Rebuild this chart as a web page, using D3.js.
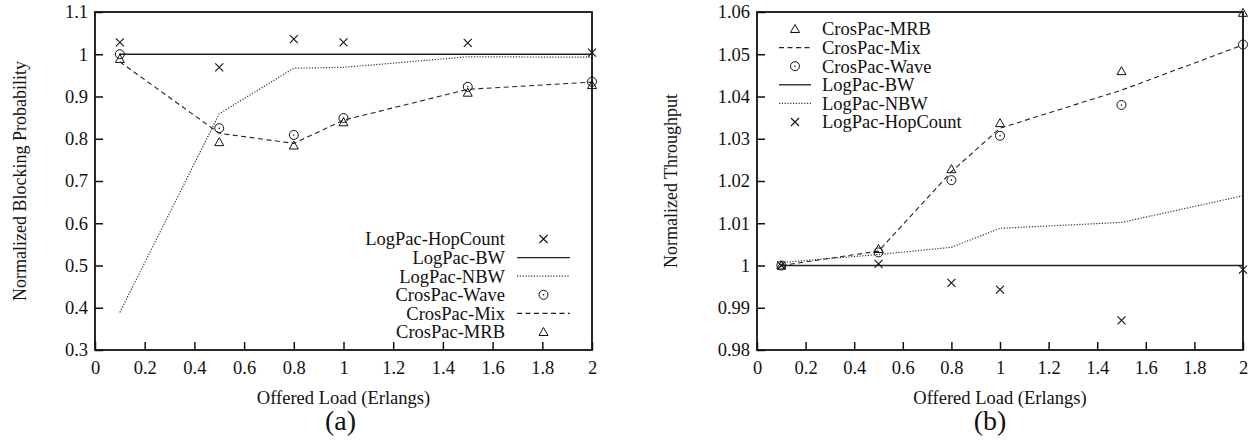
<!DOCTYPE html>
<html>
<head>
<meta charset="utf-8">
<script src="https://cdn.jsdelivr.net/npm/d3@7"></script>
<style>
  body { margin:0; background:#fff; }
</style>
</head>
<body>
<div id="chart"></div>
<script>
var WIDTH=1254, HEIGHT=444;
var SERIF="'Liberation Serif', 'Times New Roman', Times, 'DejaVu Serif', serif";

// offered load (x)
var loads=[0.1,0.5,0.8,1.0,1.5,2.0];
var xTicks=[0,0.2,0.4,0.6,0.8,1,1.2,1.4,1.6,1.8,2];

// (a) normalized blocking probability
var blkHopCount=[1.028,0.969,1.036,1.028,1.027,1.004];
var blkBW=[1,1,1,1,1,1];
var blkNBW=[0.389,0.859,0.967,0.969,0.994,0.993];
var blkWave=[1.000,0.825,0.809,0.849,0.923,0.935];
var blkMix=[0.982,0.813,0.789,0.844,0.917,0.934];
var blkMRB=[0.989,0.792,0.784,0.839,0.909,0.927];
var blkTicks=[0.3,0.4,0.5,0.6,0.7,0.8,0.9,1,1.1];

// (b) normalized throughput
var thrHopCount=[1.0000,1.0004,0.9959,0.9943,0.9870,0.9990];
var thrBW=[1,1,1,1,1,1];
var thrNBW=[1.0007,1.0026,1.0043,1.0088,1.0102,1.0165];
var thrWave=[1.0000,1.0031,1.0202,1.0307,1.0380,1.0523];
var thrMix=[1.0000,1.0034,1.0222,1.0325,1.0415,1.0522];
var thrMRB=[1.0000,1.0039,1.0228,1.0337,1.0460,1.0598];
var thrTicks=[0.98,0.99,1,1.01,1.02,1.03,1.04,1.05,1.06];

var svg=d3.select("#chart").append("svg")
  .attr("width",WIDTH).attr("height",HEIGHT)
  .attr("font-family",SERIF);

var FONT=18.5;

function fmt(d){ return String(+d.toFixed(3)); }

// marker drawing
function marker(g,type,x,y){
  if(type=="cross"){
    g.append("path").attr("d","M"+(x-4)+","+(y-4)+"L"+(x+4)+","+(y+4)+"M"+(x-4)+","+(y+4)+"L"+(x+4)+","+(y-4))
      .attr("stroke","#111").attr("stroke-width",1.1).attr("fill","none");
  } else if(type=="circle"){
    g.append("circle").attr("cx",x).attr("cy",y).attr("r",4.5)
      .attr("stroke","#111").attr("stroke-width",1).attr("fill","none");
    g.append("circle").attr("cx",x).attr("cy",y).attr("r",0.8).attr("fill","#111");
  } else if(type=="tri"){
    g.append("path").attr("d","M"+x+","+(y-4.5)+"L"+(x+4.5)+","+(y+3.5)+"L"+(x-4.5)+","+(y+3.5)+"Z")
      .attr("stroke","#111").attr("stroke-width",1).attr("fill","none");
  }
}

var styles={
  solid:{dash:null,color:"#222",w:1.3},
  dotted:{dash:"1.2,1.6",color:"#333",w:1.2},
  dashed:{dash:"5,3.5",color:"#222",w:1.1}
};

function txt(sel,size){
  return sel.attr("font-family",SERIF).attr("font-size",size+"px").attr("fill","#111");
}

function drawPanel(cfg){
  var g=svg.append("g");
  var x=d3.scaleLinear().domain([0,2]).range([cfg.left,cfg.right]);
  var y=d3.scaleLinear().domain(cfg.yDomain).range([cfg.bottom,cfg.top]);

  // axes with inward ticks
  var xa=g.append("g").attr("transform","translate(0,"+cfg.bottom+")")
    .call(d3.axisBottom(x).tickValues(xTicks).tickFormat(fmt).tickSizeInner(-8).tickSizeOuter(0).tickPadding(11));
  var ya=g.append("g").attr("transform","translate("+cfg.left+",0)")
    .call(d3.axisLeft(y).tickValues(cfg.yTicks).tickFormat(fmt).tickSizeInner(-8).tickSizeOuter(0).tickPadding(7));
  [xa,ya].forEach(function(a){
    a.attr("font-family",SERIF).attr("font-size",FONT);
    a.select(".domain").remove();
    a.selectAll("line").attr("stroke","#111").attr("stroke-width",1.5);
    txt(a.selectAll("text"),FONT);
  });

  // series
  cfg.series.forEach(function(s){
    if(s.line){
      var st=styles[s.line];
      var line=d3.line().x(function(d,i){return x(loads[i]);}).y(function(d){return y(d);});
      g.append("path").datum(s.values).attr("d",line)
        .attr("fill","none").attr("stroke",st.color).attr("stroke-width",st.w)
        .attr("stroke-dasharray",st.dash);
    }
    if(s.mark){
      s.values.forEach(function(v,i){ marker(g,s.mark,x(loads[i]),y(v)); });
    }
  });

  // frame
  g.append("rect").attr("x",cfg.left).attr("y",cfg.top)
    .attr("width",cfg.right-cfg.left).attr("height",cfg.bottom-cfg.top)
    .attr("fill","none").attr("stroke","#111").attr("stroke-width",1.8);

  // titles
  var cx=(cfg.left+cfg.right)/2;
  txt(g.append("text"),FONT).attr("x",cx).attr("y",404).attr("text-anchor","middle")
    .text("Offered Load (Erlangs)");
  txt(g.append("text"),28).attr("x",cx+cfg.labelDx).attr("y",430).attr("text-anchor","middle")
    .text(cfg.label);
  txt(g.append("text"),18).attr("transform","translate("+cfg.yTitleX+","+((cfg.top+cfg.bottom)/2)+") rotate(-90)")
    .attr("text-anchor","middle").attr("dy","0.35em")
    .text(cfg.yTitle);

  // legend
  var lg=g.append("g");
  cfg.legend.forEach(function(name,i){
    var s=cfg.series.filter(function(d){return d.name==name;})[0];
    var ly=cfg.legendY+i*18.6;
    txt(lg.append("text"),FONT).attr("x",cfg.legendTextX).attr("y",ly).attr("dy","0.35em")
      .attr("text-anchor",cfg.legendAlign).text(name);
    if(s.line){
      var st=styles[s.line];
      lg.append("line").attr("x1",cfg.sampleX1).attr("x2",cfg.sampleX2).attr("y1",ly).attr("y2",ly)
        .attr("stroke",st.color).attr("stroke-width",st.w).attr("stroke-dasharray",st.dash);
    }
    if(s.mark){
      marker(lg,s.mark,(cfg.sampleX1+cfg.sampleX2)/2,ly);
    }
  });
}

drawPanel({
  left:95,right:592,top:12,bottom:350,
  yDomain:[0.3,1.1],yTicks:blkTicks,
  yTitle:"Normalized Blocking Probability",yTitleX:20,label:"(a)",labelDx:-3,
  series:[
    {name:"LogPac-HopCount",values:blkHopCount,mark:"cross"},
    {name:"LogPac-BW",values:blkBW,line:"solid"},
    {name:"LogPac-NBW",values:blkNBW,line:"dotted"},
    {name:"CrosPac-Wave",values:blkWave,mark:"circle"},
    {name:"CrosPac-Mix",values:blkMix,line:"dashed"},
    {name:"CrosPac-MRB",values:blkMRB,mark:"tri"}
  ],
  legend:["LogPac-HopCount","LogPac-BW","LogPac-NBW","CrosPac-Wave","CrosPac-Mix","CrosPac-MRB"],
  legendY:239,legendTextX:505,legendAlign:"end",sampleX1:517,sampleX2:570
});

drawPanel({
  left:757,right:1243,top:12,bottom:350,
  yDomain:[0.98,1.06],yTicks:thrTicks,
  yTitle:"Normalized Throughput",yTitleX:671,label:"(b)",labelDx:-10,
  series:[
    {name:"CrosPac-MRB",values:thrMRB,mark:"tri"},
    {name:"CrosPac-Mix",values:thrMix,line:"dashed"},
    {name:"CrosPac-Wave",values:thrWave,mark:"circle"},
    {name:"LogPac-BW",values:thrBW,line:"solid"},
    {name:"LogPac-NBW",values:thrNBW,line:"dotted"},
    {name:"LogPac-HopCount",values:thrHopCount,mark:"cross"}
  ],
  legend:["CrosPac-MRB","CrosPac-Mix","CrosPac-Wave","LogPac-BW","LogPac-NBW","LogPac-HopCount"],
  legendY:29,legendTextX:822,legendAlign:"start",sampleX1:779,sampleX2:811
});
</script>
</body>
</html>
